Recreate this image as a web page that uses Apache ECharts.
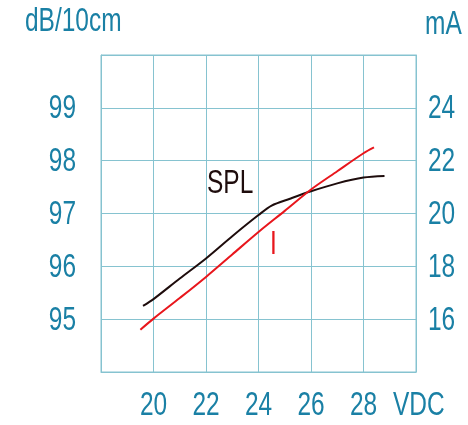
<!DOCTYPE html>
<html><head><meta charset="utf-8">
<script src="https://cdn.jsdelivr.net/npm/echarts@6/dist/echarts.min.js"></script>
<style>html,body{margin:0;padding:0;background:#fff}#c{width:468px;height:425px}</style>
</head><body><div id="c"></div>
<script>
// Data
const voltageTicks = [18, 20, 22, 24, 26, 28, 30];
const splTicks = [94, 95, 96, 97, 98, 99, 100];
const currentTicks = [14, 16, 18, 20, 22, 24, 26];
const voltageLabels = [20, 22, 24, 26, 28];
const splLabels = [95, 96, 97, 98, 99];
const currentLabels = [16, 18, 20, 22, 24];
const splVoltage = [19.6, 20, 21, 22, 23, 24, 24.5, 25.2, 26, 27, 28, 28.8];
const splValues  = [95.25, 95.38, 95.77, 96.15, 96.57, 96.97, 97.15, 97.28, 97.42, 97.57, 97.68, 97.71];
const curVoltage = [19.5, 20, 21, 22, 23, 24, 25, 26, 27, 28, 28.4];
const curValues  = [15.6, 16.02, 16.8, 17.6, 18.45, 19.3, 20.1, 20.91, 21.6, 22.28, 22.5];

const FONT = "34px 'Liberation Sans', Arial, sans-serif";
const NARROW = 0.72;
const TEAL = '#1a80a5';
const GRID = '#86c3d0';
const DARK = '#1e0c0c';
const RED = '#e8161c';

const chart = echarts.init(document.getElementById('c'));
const axisCommon = {
  axisTick: {show: false},
  axisLine: {show: true, lineStyle: {color: GRID, width: 1}},
  axisLabel: {show: false}
};
chart.setOption({
  animation: false,
  grid: {left: 101, right: 52, top: 55, bottom: 53, show: true, borderColor: GRID, borderWidth: 1},
  xAxis: Object.assign({}, axisCommon, {
    type: 'value', min: voltageTicks[0], max: voltageTicks[voltageTicks.length - 1], interval: 2,
    splitLine: {show: true, lineStyle: {color: GRID, width: 1}}
  }),
  yAxis: [
    Object.assign({}, axisCommon, {
      type: 'value', min: splTicks[0], max: splTicks[splTicks.length - 1], interval: 1, position: 'left',
      splitLine: {show: true, lineStyle: {color: GRID, width: 1}}
    }),
    Object.assign({}, axisCommon, {
      type: 'value', min: currentTicks[0], max: currentTicks[currentTicks.length - 1], interval: 2, position: 'right',
      splitLine: {show: false}
    })
  ],
  series: [
    {name: 'SPL', type: 'line', yAxisIndex: 0, smooth: 0.3, symbol: 'none',
     lineStyle: {color: DARK, width: 2},
     data: splVoltage.map((v, i) => [v, splValues[i]])},
    {name: 'I', type: 'line', yAxisIndex: 1, smooth: 0.3, symbol: 'none',
     lineStyle: {color: RED, width: 2},
     data: curVoltage.map((v, i) => [v, curValues[i]])}
  ]
});

// Condensed tick labels placed through the chart's own scales
function label(text, x, y, align, fill) {
  return {type: 'text', x: x, y: y, scaleX: NARROW, silent: true,
          style: {text: String(text), fill: fill || TEAL, font: FONT, align: align, verticalAlign: 'middle'}};
}
const gridBottom = chart.convertToPixel({yAxisIndex: 0}, splTicks[0]);
const gridLeft = chart.convertToPixel({xAxisIndex: 0}, voltageTicks[0]);
const gridRight = chart.convertToPixel({xAxisIndex: 0}, voltageTicks[voltageTicks.length - 1]);
const g = [];
voltageLabels.forEach(v => g.push(label(v, chart.convertToPixel({xAxisIndex: 0}, v), gridBottom + 34, 'center')));
splLabels.forEach(v => g.push(label(v, gridLeft - 25, chart.convertToPixel({yAxisIndex: 0}, v) + 1, 'right')));
currentLabels.forEach(v => g.push(label(v, gridRight + 12, chart.convertToPixel({yAxisIndex: 1}, v) + 1, 'left')));
// axis names and series annotations
g.push(label('dB/10cm', 25, 22, 'left'));
g.push(label('mA', 425, 25, 'left'));
g.push(label('VDC', 393, gridBottom + 34, 'left'));
g.push(label('SPL', 207, 184, 'left', DARK));
g.push(label('I', 273.5, 245, 'center', RED));
chart.setOption({graphic: g});
</script></body></html>
